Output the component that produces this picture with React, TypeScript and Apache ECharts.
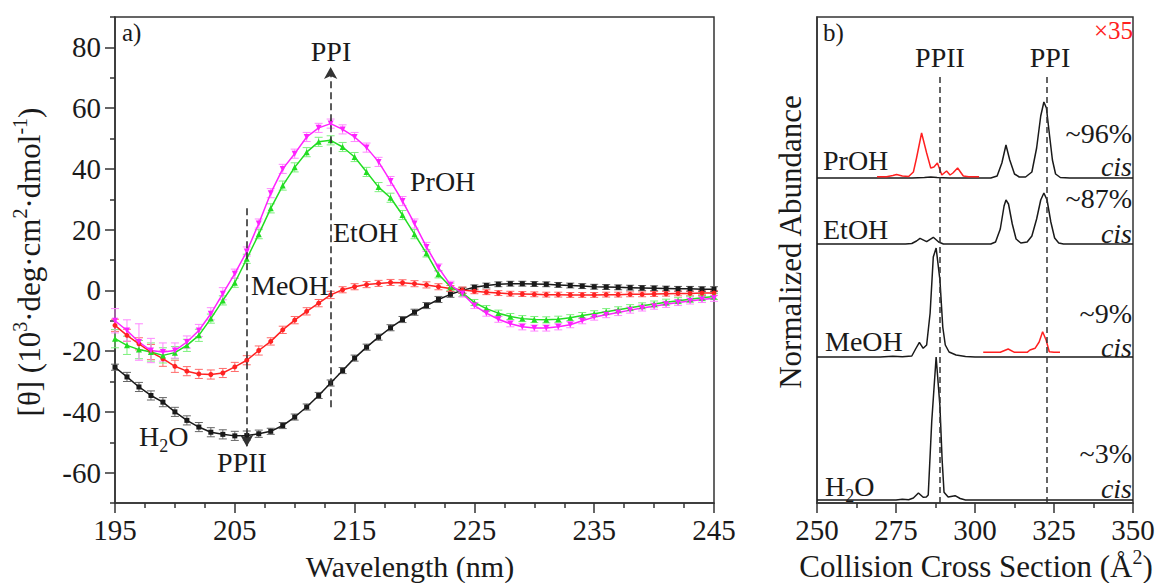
import React, { useEffect, useRef } from "react";
import * as echarts from "echarts";

// ---------- Panel a) CD spectra ----------
const WAVELENGTH = [
  195, 196, 197, 198, 199, 200, 201, 202, 203, 204, 205, 206, 207, 208, 209, 210, 211,
  212, 213, 214, 215, 216, 217, 218, 219, 220, 221, 222, 223, 224, 225, 226, 227, 228,
  229, 230, 231, 232, 233, 234, 235, 236, 237, 238, 239, 240, 241, 242, 243, 244, 245,
];
const H2O_CD = [
  -25.3, -28.5, -31.8, -34.6, -36.8, -40, -42.8, -45, -46.7, -47.4, -47.9, -47.8, -47.2,
  -46.4, -44.5, -41.7, -38.4, -34.6, -30.5, -26.4, -22.3, -18.7, -15.4, -12.3, -9.6, -7.2,
  -5, -3, -1.3, 0, 1, 1.6, 2, 2.2, 2.2, 2.1, 2, 1.8, 1.6, 1.4, 1.2, 1.1, 1, 0.9, 0.8, 0.7,
  0.6, 0.5, 0.5, 0.4, 0.4,
];
const MEOH_CD = [
  -11.5, -14.8, -17.6, -20.3, -22.5, -25, -26.6, -27.5, -27.7, -27.2, -25.2, -23, -19.8,
  -16.8, -13, -9.8, -6.9, -4.2, -1.5, 0.2, 1.2, 1.9, 2.3, 2.6, 2.5, 2.2, 1.8, 1.2, 0.6, 0.1,
  -0.3, -0.6, -0.9, -1.1, -1.2, -1.3, -1.4, -1.4, -1.5, -1.5, -1.5, -1.4, -1.4, -1.3, -1.3,
  -1.2, -1.1, -1.0, -1.0, -0.9, -0.9,
];
const ETOH_CD = [
  -15.9, -18.1, -19.5, -20.3, -21.4, -20.5, -18.1, -14.8, -9.3, -3.3, 2.5, 10.4, 18.5, 27,
  34.5, 40.5, 45.5, 48.9, 49.4, 47.2, 43.9, 39, 34, 30.5, 24.8, 18.5, 12.2, 5.3, 1.2, -0.8,
  -4, -6, -7.5, -8.6, -9.3, -9.6, -9.7, -9.5, -9, -8.3, -7.7, -7, -6.4, -5.7, -5.1, -4.5,
  -3.9, -3.4, -2.9, -2.4, -2,
];
const PROH_CD = [
  -10, -13.2, -17, -19.8, -20.3, -19.8, -17, -13.2, -7.7, -1.1, 5.5, 12.8, 22, 32, 40, 45,
  50.5, 53.5, 54.9, 53, 50.5, 47, 42.3, 36, 29.4, 22, 14.3, 7.5, 1.8, -1, -5, -7.5, -9.5,
  -11, -12, -12.4, -12.4, -12, -11.3, -10, -8.8, -8, -7.3, -6.5, -5.8, -5.2, -4.6, -4, -3.5,
  -3, -2.6,
];
const H2O_ERR = [
  1, 1.5, 1.5, 1.5, 1.5, 1.5, 1.5, 1.5, 1.5, 1.5, 1.5, 1.5, 1.2, 1, 1, 1, 1, 1, 1, 1, 1, 1,
  1, 1, 1, 1, 1, 1, 1, 1, 0.8, 0.8, 0.8, 0.8, 0.8, 0.8, 0.8, 0.8, 0.8, 0.8, 0.8, 0.8, 0.8,
  0.8, 0.8, 0.8, 0.8, 0.8, 0.8, 0.8, 0.8,
];
const MEOH_ERR = [
  2, 2, 2, 2.5, 2.5, 2, 1.5, 1.5, 1.5, 1.5, 1.5, 1.5, 1.5, 1.2, 1.2, 1.2, 1.2, 1.2, 1.2, 1,
  1, 1, 1, 1, 1, 1, 1, 1, 1, 1, 0.8, 0.8, 0.8, 0.8, 0.8, 0.8, 0.8, 0.8, 0.8, 0.8, 0.8, 0.8,
  0.8, 0.8, 0.8, 0.8, 0.8, 0.8, 0.8, 0.8, 0.8,
];
const ETOH_ERR = [
  3, 3, 3, 3, 2.5, 2, 2, 2, 1.5, 1.5, 1.5, 1.5, 1.5, 1.5, 1.5, 1.5, 1.5, 1.5, 1.5, 1.5, 1.5,
  1.5, 1.5, 1.5, 1.5, 1.5, 1.2, 1.2, 1.2, 1.2, 1, 1, 1, 1, 1, 1, 1, 1, 1, 1, 1, 1, 1, 1, 1,
  1, 1, 1, 1, 1, 1,
];
const PROH_ERR = [
  4, 3.5, 6, 4, 3, 2.5, 2, 2, 2, 2, 1.5, 1.5, 1.5, 1.5, 1.5, 1.5, 1.5, 1.5, 1.5, 1.5, 1.5,
  1.5, 1.5, 1.5, 1.5, 1.5, 1.5, 1.2, 1.2, 1.2, 1, 1, 1, 1, 1, 1, 1, 1, 1, 1, 1, 1, 1, 1, 1,
  1, 1, 1, 1, 1, 1,
];
const CD_X_MAJOR = [195, 205, 215, 225, 235, 245];
const CD_X_MINOR = [
  197.5, 200, 202.5, 207.5, 210, 212.5, 217.5, 220, 222.5, 227.5, 230, 232.5, 237.5, 240, 242.5,
];
const CD_Y_MAJOR = [-60, -40, -20, 0, 20, 40, 60, 80];
const CD_Y_MINOR = [-70, -50, -30, -10, 10, 30, 50, 70, 90];

// ---------- Panel b) ion mobility (abundance above each trace baseline) ----------
const PROH_BASE = 325;
const ETOH_BASE = 259;
const MEOH_BASE = 146;
const H2O_BASE = 3;
const PROH_IM = [
  [250, 0], [280, 0], [284, 0.5], [286, 1], [288, 0.5], [292, 0], [305, 0], [307, 2],
  [308.5, 15], [309.8, 33], [311, 18], [312.5, 4], [314, 1], [316, 1], [318, 6], [319.5, 30],
  [320.8, 62], [321.8, 76], [322.6, 70], [323.5, 45], [324.5, 18], [325.5, 4], [327, 0.5],
  [330, 0], [350, 0],
];
const PROH_IM_X35 = [
  [269, 1.3], [272, 1.3], [274, 2.5], [275.2, 3.5], [277, 2], [279, 1.5], [280.5, 6],
  [281.5, 20], [283.1, 45], [284.7, 25], [286, 10], [287, 11], [288.1, 15], [289.5, 3],
  [291, 7], [292.1, 3], [293, 5], [294.5, 10], [296.3, 2], [298, 1.3], [301.3, 1.3],
];
const ETOH_IM = [
  [250, 0], [278, 0], [280, 0.5], [281.5, 3], [282.6, 5.7], [284.7, 2.3], [286.8, 6.7],
  [288.5, 2], [290, 0], [305, 0], [306.5, 2], [308, 15], [309.2, 38], [309.8, 44],
  [310.6, 40], [311.8, 20], [313, 5], [314.5, 1], [316.5, 2], [318, 8], [319.5, 25],
  [320.8, 44], [321.8, 51], [322.8, 44], [324, 22], [325.2, 6], [326.5, 1], [328, 0], [350, 0],
];
const MEOH_IM = [
  [250, 0], [270, 0], [274, 0.8], [277, 0.3], [280, 1], [281.2, 8], [282.4, 14.7],
  [283.6, 8.7], [284.7, 12], [285.8, 44], [286.8, 100], [287.7, 109], [288.9, 77],
  [289.8, 30], [290.6, 12], [291.8, 5], [294, 2], [297, 0.5], [300, 0], [350, 0],
];
const MEOH_IM_X35 = [
  [302.6, 4.7], [308, 4.7], [310.5, 8], [312.5, 4.7], [316.5, 4.7], [317.4, 7], [319, 8.7],
  [320.3, 15], [321.4, 25.3], [322.5, 17], [323.5, 5.3], [325, 4.7], [326.9, 4.7],
];
const H2O_IM = [
  [250, 0], [275, 0], [277, 0.8], [279, 0.3], [280.5, 2], [282.1, 7], [283.6, 2.7],
  [284.6, 3], [285.2, 5], [286.3, 78], [287.7, 143], [288.9, 94], [289.6, 40], [290.2, 7.7],
  [291.5, 3], [293.7, 4.3], [295.3, 1.5], [297, 0], [350, 0],
];
const PPII_CCS = 288.8;
const PPI_CCS = 322.6;

const FONT = "Liberation Serif";
const FS = 28;
const TICK_FS = 29;
const TITLE_FS = 30;
const AXIS_COLOR = "#333";
const TEXT_COLOR = "#1a1a1a";

function errorSeries(values: number[], errs: number[], color: string) {
  return {
    type: "custom",
    xAxisIndex: 0,
    yAxisIndex: 0,
    silent: true,
    z: 1,
    data: WAVELENGTH.map((w, i) => [w, values[i] - errs[i], values[i] + errs[i]]),
    renderItem: (_params: any, api: any) => {
      const x = api.value(0);
      const lo = api.coord([x, api.value(1)]);
      const hi = api.coord([x, api.value(2)]);
      const hw = 4;
      const st = { stroke: color, lineWidth: 1 };
      return {
        type: "group",
        children: [
          { type: "line", shape: { x1: lo[0], y1: lo[1], x2: hi[0], y2: hi[1] }, style: st },
          { type: "line", shape: { x1: lo[0] - hw, y1: lo[1], x2: lo[0] + hw, y2: lo[1] }, style: st },
          { type: "line", shape: { x1: hi[0] - hw, y1: hi[1], x2: hi[0] + hw, y2: hi[1] }, style: st },
        ],
      };
    },
  };
}

function cdSeries(name: string, values: number[], color: string, symbol: string, extra: any = {}) {
  return {
    name,
    type: "line",
    xAxisIndex: 0,
    yAxisIndex: 0,
    data: WAVELENGTH.map((w, i) => [w, values[i]]),
    symbol,
    symbolSize: 5,
    showSymbol: true,
    lineStyle: { color, width: 1.5 },
    itemStyle: { color },
    z: 3,
    ...extra,
  };
}

function imSeries(data: number[][], base: number, color: string, extra: any = {}) {
  return {
    type: "line",
    xAxisIndex: 2,
    yAxisIndex: 2,
    data: data.map(([x, y]) => [x, y + base]),
    symbol: "none",
    lineStyle: { color, width: 1.5 },
    z: 3,
    ...extra,
  };
}

function txt(text: string, x: number, y: number, opts: any = {}) {
  const { align = "left", color = TEXT_COLOR, size = FS, style = "normal", rotation = 0, rich } = opts;
  return {
    type: "text",
    x,
    y,
    rotation,
    z: 10,
    style: {
      text,
      fill: color,
      fontFamily: FONT,
      fontSize: size,
      fontStyle: style,
      align,
      verticalAlign: "middle",
      lineHeight: 38,
      rich,
    },
  };
}

function subsup(main: number, small: number) {
  return {
    m: { fontSize: main, fontFamily: FONT, lineHeight: 38, fill: TEXT_COLOR },
    sub: { fontSize: small, fontFamily: FONT, lineHeight: small, verticalAlign: "bottom", fill: TEXT_COLOR },
    sup: { fontSize: small, fontFamily: FONT, lineHeight: small, verticalAlign: "top", fill: TEXT_COLOR },
  };
}

export default function App() {
  const ref = useRef<HTMLDivElement>(null);
  useEffect(() => {
    if (!ref.current) return;
    const chart = echarts.init(ref.current, null, { renderer: "svg" });
    const axisLabel = { fontFamily: FONT, fontSize: TICK_FS, color: TEXT_COLOR };
    const axisLine = { show: true, onZero: false, lineStyle: { color: AXIS_COLOR, width: 1.5 } };
    const noLine = { show: false, onZero: false };
    const dashed = { color: "#333", width: 1.6, type: [7, 4] };
    chart.setOption({
      animation: false,
      backgroundColor: "#fff",
      textStyle: { fontFamily: FONT },
      grid: [
        { left: 115, top: 17, width: 599, height: 486, show: true, borderColor: AXIS_COLOR, borderWidth: 1.5, backgroundColor: "transparent" },
        { left: 817, top: 17, width: 316, height: 486, show: true, borderColor: AXIS_COLOR, borderWidth: 1.5, backgroundColor: "transparent" },
      ],
      xAxis: [
        {
          type: "value", gridIndex: 0, min: 195, max: 245, position: "bottom",
          axisLine,
          axisTick: { show: true, length: 10, customValues: CD_X_MAJOR, lineStyle: { color: AXIS_COLOR, width: 1.5 } },
          axisLabel: { ...axisLabel, margin: 12, customValues: CD_X_MAJOR },
          splitLine: { show: false },
        },
        {
          type: "value", gridIndex: 0, min: 195, max: 245, position: "bottom", offset: 0,
          axisLine: noLine,
          axisTick: { show: true, length: 5, customValues: CD_X_MINOR, lineStyle: { color: AXIS_COLOR, width: 1.5 } },
          axisLabel: { show: false },
          splitLine: { show: false },
        },
        {
          type: "value", gridIndex: 1, min: 250, max: 350, interval: 25, position: "bottom",
          axisLine,
          axisTick: { show: true, length: 10, lineStyle: { color: AXIS_COLOR, width: 1.5 } },
          minorTick: { show: true, splitNumber: 2, length: 5, lineStyle: { color: AXIS_COLOR, width: 1.5 } },
          axisLabel: { ...axisLabel, margin: 12 },
          splitLine: { show: false },
          minorSplitLine: { show: false },
        },
      ],
      yAxis: [
        {
          type: "value", gridIndex: 0, min: -70, max: 90, position: "left",
          axisLine,
          axisTick: { show: true, length: 10, customValues: CD_Y_MAJOR, lineStyle: { color: AXIS_COLOR, width: 1.5 } },
          axisLabel: { ...axisLabel, margin: 14, customValues: CD_Y_MAJOR },
          splitLine: { show: false },
        },
        {
          type: "value", gridIndex: 0, min: -70, max: 90, position: "left", offset: 0,
          axisLine: noLine,
          axisTick: { show: true, length: 5, customValues: CD_Y_MINOR, lineStyle: { color: AXIS_COLOR, width: 1.5 } },
          axisLabel: { show: false },
          splitLine: { show: false },
        },
        {
          type: "value", gridIndex: 1, min: 0, max: 486, position: "left",
          axisLine, axisTick: { show: false }, axisLabel: { show: false }, splitLine: { show: false },
        },
      ],
      series: [
        errorSeries(H2O_CD, H2O_ERR, "#666"),
        errorSeries(MEOH_CD, MEOH_ERR, "#ff6a6a"),
        errorSeries(ETOH_CD, ETOH_ERR, "#7ef07e"),
        errorSeries(PROH_CD, PROH_ERR, "#ff88ff"),
        cdSeries("H2O", H2O_CD, "#1a1a1a", "rect", {
          markLine: {
            silent: true,
            symbol: ["none", "arrow"],
            symbolSize: [10, 12],
            label: { show: false },
            lineStyle: dashed,
            data: [
              [{ coord: [213, -38.5] }, { coord: [213, 73.5] }],
              [{ coord: [206, 27] }, { coord: [206, -51.5] }],
            ],
          },
        }),
        cdSeries("MeOH", MEOH_CD, "#ff2222", "circle"),
        cdSeries("EtOH", ETOH_CD, "#22dd22", "triangle", { symbolSize: 6 }),
        cdSeries("PrOH", PROH_CD, "#ff22ff", "triangle", { symbolSize: 6, symbolRotate: 180 }),
        imSeries(H2O_IM, H2O_BASE, "#1a1a1a", {
          markLine: {
            silent: true,
            symbol: ["none", "none"],
            label: { show: false },
            lineStyle: { color: "#333", width: 1.5, type: [6, 4] },
            data: [
              [{ coord: [PPII_CCS, 0] }, { coord: [PPII_CCS, 428] }],
              [{ coord: [PPI_CCS, 0] }, { coord: [PPI_CCS, 428] }],
            ],
          },
        }),
        imSeries(MEOH_IM, MEOH_BASE, "#1a1a1a"),
        imSeries(ETOH_IM, ETOH_BASE, "#1a1a1a"),
        imSeries(PROH_IM, PROH_BASE, "#1a1a1a"),
        imSeries(MEOH_IM_X35, MEOH_BASE, "#ff2020", { z: 4 }),
        imSeries(PROH_IM_X35, PROH_BASE, "#ff2020", { z: 4 }),
      ],
      graphic: [
        txt("a)", 122, 32, { size: 25 }),
        txt("PPI", 331, 51, { align: "center" }),
        txt("PPII", 242, 462, { align: "center" }),
        txt("MeOH", 251, 285),
        txt("EtOH", 333, 232),
        txt("PrOH", 410, 181),
        txt("{m|H}{sub|2}{m|O}", 139, 436, { rich: subsup(FS, 18) }),
        txt("{m|[θ] (10}{sup|3}{m|·deg·cm}{sup|2}{m|·dmol}{sup|-1}{m|)}", 29, 262, {
          align: "center", rotation: Math.PI / 2, rich: subsup(31, 20),
        }),
        txt("Wavelength (nm)", 410, 566, { align: "center", size: TITLE_FS }),
        txt("b)", 823, 32, { size: 25 }),
        txt("×35", 1133, 30, { align: "right", size: 25, color: "#ff2020" }),
        txt("PPII", 940, 57, { align: "center" }),
        txt("PPI", 1050, 57, { align: "center" }),
        txt("PrOH", 823, 160),
        txt("EtOH", 823, 229),
        txt("MeOH", 825, 341),
        txt("{m|H}{sub|2}{m|O}", 825, 486, { rich: subsup(FS, 18) }),
        txt("~96%", 1132, 133, { align: "right" }),
        txt("cis", 1132, 166, { align: "right", style: "italic" }),
        txt("~87%", 1132, 198, { align: "right" }),
        txt("cis", 1132, 233, { align: "right", style: "italic" }),
        txt("~9%", 1132, 313, { align: "right" }),
        txt("cis", 1132, 347, { align: "right", style: "italic" }),
        txt("~3%", 1132, 453, { align: "right" }),
        txt("cis", 1132, 488, { align: "right", style: "italic" }),
        txt("Normalized Abundance", 790, 242, { align: "center", rotation: Math.PI / 2, size: 31 }),
        txt("{m|Collision Cross Section (Å}{sup|2}{m|)}", 976, 566, { align: "center", rich: subsup(31, 20) }),
      ],
    });
    return () => chart.dispose();
  }, []);
  return (
    <div
      ref={ref}
      style={{ position: "fixed", left: 0, top: 0, width: 1168, height: 583, background: "#fff" }}
    />
  );
}
